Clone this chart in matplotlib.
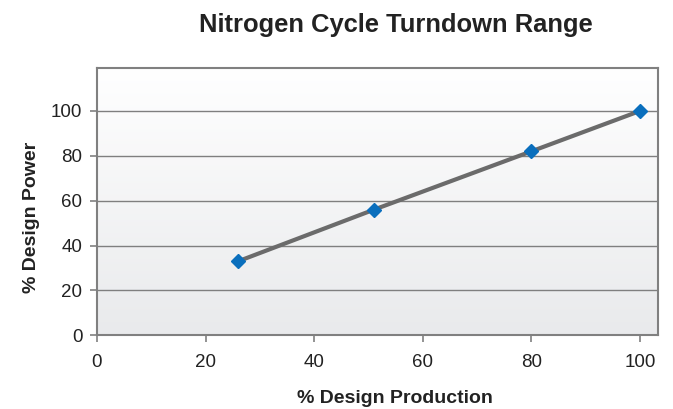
import numpy as np
import matplotlib.pyplot as plt

plt.rcParams['font.family'] = ['Liberation Sans', 'DejaVu Sans']

production = [26, 51, 80, 100]   # % Design Production
power = [33, 56, 82, 100]        # % Design Power
xticks = [0, 20, 40, 60, 80, 100]
yticks = [0, 20, 40, 60, 80, 100]

fig = plt.figure(figsize=(6.73, 4.09), dpi=100)
ax = fig.add_axes([0.1441, 0.1802, 0.8336, 0.6528])

# soft vertical gradient behind the plot
grad = np.linspace(0, 1, 256).reshape(-1, 1)
ax.imshow(grad, extent=[0, 1, 0, 1], transform=ax.transAxes, aspect='auto',
          cmap=plt.matplotlib.colors.LinearSegmentedColormap.from_list('bg', ['#ffffff', '#e9eaec']),
          zorder=0, origin='upper')

ax.set_xlim(0, 103.3)
ax.set_ylim(0, 119)
ax.set_xticks(xticks)
ax.set_yticks(yticks)
ax.yaxis.grid(True, color='#7f7f7f', lw=1)
ax.set_axisbelow(True)

ax.plot(production, power, color='#6b6b6b', lw=3, zorder=3)
ax.plot(production, power, ls='none', marker='D', ms=7.5, color='#0a6fbd', zorder=4)

for s in ax.spines.values():
    s.set_color('#808080')
    s.set_linewidth(1.5)
ax.tick_params(colors='#808080', labelcolor='#222222', labelsize=13.5, length=5, width=1.2)
ax.tick_params(axis='x', pad=8.5)
ax.tick_params(axis='y', pad=5.5)

ax.set_xlabel('% Design Production', fontsize=14, fontweight='bold', labelpad=14, color='#222222')
ax.xaxis.set_label_coords(0.531, -0.205)
ax.set_ylabel('% Design Power', fontsize=14, fontweight='bold', labelpad=10, color='#222222')
ax.yaxis.set_label_coords(-0.102, 0.441)
fig.text(0.588, 0.939, 'Nitrogen Cycle Turndown Range', ha='center', va='center',
         fontsize=18.4, fontweight='bold', color='#222222')

fig.savefig('out.png', dpi=100)
